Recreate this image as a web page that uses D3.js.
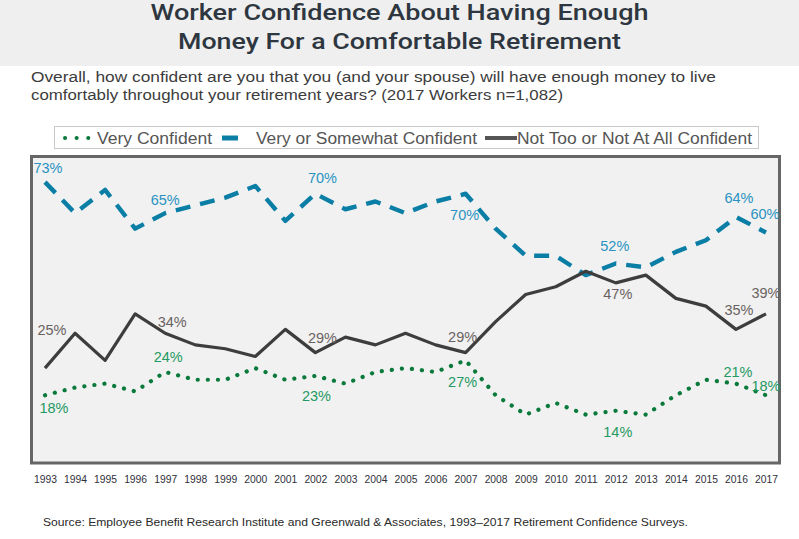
<!DOCTYPE html>
<html>
<head>
<meta charset="utf-8">
<script src="https://cdn.jsdelivr.net/npm/d3@7"></script>
<style>
  body { margin: 0; background: #fff; }
  svg { display: block; font-family: "Liberation Sans", Arial, sans-serif; }
</style>
</head>
<body>
<div id="chart"></div>
<script>
const years = [1993, 1994, 1995, 1996, 1997, 1998, 1999, 2000, 2001, 2002, 2003, 2004, 2005,
  2006, 2007, 2008, 2009, 2010, 2011, 2012, 2013, 2014, 2015, 2016, 2017];

const veryConfident = [18, 20, 21, 19, 24, 22, 22, 25, 22, 23, 21, 24, 25,
  24, 27, 18, 13, 16, 13, 14, 13, 18, 22, 21, 18];
const veryOrSomewhat = [73, 65, 71, 61, 65, 67, 69, 72, 63, 70, 66, 68, 65,
  68, 70, 61, 54, 54, 49, 52, 51, 55, 58, 64, 60];
const notTooConfident = [25, 34, 27, 39, 34, 31, 30, 28, 35, 29, 33, 31, 34,
  31, 29, 37, 44, 46, 50, 47, 49, 43, 41, 35, 39];

const labelYears = [1993, 1997, 2002, 2007, 2012, 2016, 2017];

const titleLines = ["Worker Confidence About Having Enough", "Money For a Comfortable Retirement"];
const subtitleLines = [
  "Overall, how confident are you that you (and your spouse) will have enough money to live",
  "comfortably throughout your retirement years? (2017 Workers n=1,082)"
];
const sourceText = "Source:  Employee Benefit Research Institute and Greenwald & Associates, 1993\u20132017 Retirement Confidence Surveys.";

// label nudges (dx, dy) relative to the point, per label year
const labelNudge = {
  blue:  [[3, -9], [0, -8], [7, -11], [-1, 26], [-1, -13], [3, -14], [-1, -14]],
  black: [[7, -33], [7, -6], [7, -10], [-3, -11], [2, 16], [3, -14], [0, -16]],
  green: [[9, 18], [3, -10], [1, 25], [-3, 27], [2, 26], [2, -7], [0, -4]]
};

const series = [
  { key: "blue", name: "Very or Somewhat Confident", values: veryOrSomewhat,
    color: "#0b7ea6", label: "#2a93c2", width: 4.4, dash: "15 10", cap: "butt" },
  { key: "black", name: "Not Too or Not At All Confident", values: notTooConfident,
    color: "#3d3d3d", label: "#6a6262", width: 3.2, dash: null, cap: "butt" },
  { key: "green", name: "Very Confident", values: veryConfident,
    color: "#0a7a3c", label: "#1f9a62", width: 4.2, dash: "0.1 10", cap: "round" }
];

const W = 799, H = 539;
const svg = d3.select("#chart").append("svg").attr("width", W).attr("height", H);

// header band
svg.append("rect").attr("x", 0).attr("y", 0).attr("width", W).attr("height", 66).attr("fill", "#efefef");

const titleWidths = [498, 443];
titleLines.forEach((t, i) => {
  svg.append("text")
    .attr("x", 399.5).attr("y", 20 + i * 28.5)
    .attr("text-anchor", "middle")
    .attr("font-family", "Roboto, \"Liberation Sans\", Arial, sans-serif")
    .attr("font-weight", 500)
    .attr("font-size", 21.5)
    .attr("fill", "#2e3640")
    .attr("textLength", titleWidths[i])
    .attr("lengthAdjust", "spacingAndGlyphs")
    .text(t);
});

const subWidths = [685, 532];
subtitleLines.forEach((t, i) => {
  svg.append("text")
    .attr("x", 31).attr("y", 82 + i * 18)
    .attr("font-size", 15.5)
    .attr("fill", "#3c3c3c")
    .attr("textLength", subWidths[i])
    .attr("lengthAdjust", "spacingAndGlyphs")
    .text(t);
});

// legend
const legend = svg.append("g");
legend.append("rect")
  .attr("x", 54.5).attr("y", 126.5).attr("width", 704).attr("height", 22)
  .attr("fill", "#fff").attr("stroke", "#c9c9c9");

const legendItems = [
  { s: series[2], x1: 65, x2: 90, tx: 97, tw: 115 },
  { s: series[0], x1: 222, x2: 238, tx: 256, tw: 221 },
  { s: series[1], x1: 485, x2: 517, tx: 517, tw: 235 }
];
legendItems.forEach((d) => {
  legend.append("line")
    .attr("x1", d.x1).attr("x2", d.x2).attr("y1", 138).attr("y2", 138)
    .attr("stroke", d.s.key === "black" ? "#555" : d.s.color)
    .attr("stroke-width", d.s.key === "blue" ? 5 : 4)
    .attr("stroke-linecap", d.s.cap)
    .attr("stroke-dasharray", d.s.key === "green" ? "0.1 11.5" : null);
  legend.append("text")
    .attr("x", d.tx).attr("y", 144)
    .attr("font-size", 16)
    .attr("fill", "#555")
    .attr("textLength", d.tw)
    .attr("lengthAdjust", "spacingAndGlyphs")
    .text(d.s.name);
});

// plot area
svg.append("rect")
  .attr("x", 31.5).attr("y", 156.5).attr("width", 748).attr("height", 306.5)
  .attr("fill", "#f1f1f1").attr("stroke", "#666").attr("stroke-width", 3);

const x = d3.scaleLinear().domain([1993, 2017]).range([45, 766]);
const y = d3.scaleLinear().domain([0, 80]).range([465, 155]);

const xAxis = d3.axisBottom(x)
  .tickValues(years)
  .tickFormat(d3.format("d"))
  .tickSize(0)
  .tickPadding(10);

const gx = svg.append("g").attr("transform", "translate(0,465)").call(xAxis);
gx.select(".domain").remove();
gx.selectAll("text")
  .attr("font-family", "\"Liberation Sans\", Arial, sans-serif")
  .attr("font-size", 11)
  .attr("fill", "#2f2f3a")
  .attr("textLength", 23)
  .attr("lengthAdjust", "spacingAndGlyphs");

const line = d3.line().x((d, i) => x(years[i])).y((d) => y(d));

series.forEach((s) => {
  svg.append("path")
    .datum(s.values)
    .attr("fill", "none")
    .attr("stroke", s.color)
    .attr("stroke-width", s.width)
    .attr("stroke-linejoin", "round")
    .attr("stroke-linecap", s.cap)
    .attr("stroke-dasharray", s.dash)
    .attr("d", line);
});

series.forEach((s) => {
  labelYears.forEach((yr, j) => {
    const i = years.indexOf(yr);
    const [dx, dy] = labelNudge[s.key][j];
    svg.append("text")
      .attr("x", x(yr) + dx)
      .attr("y", y(s.values[i]) + dy)
      .attr("text-anchor", "middle")
      .attr("font-size", 14.5)
      .attr("fill", s.label)
      .attr("textLength", 29)
      .attr("lengthAdjust", "spacingAndGlyphs")
      .text(s.values[i] + "%");
  });
});

svg.append("text")
  .attr("x", 43).attr("y", 526)
  .attr("font-size", 11)
  .attr("fill", "#2a2a2a")
  .attr("textLength", 645)
  .attr("lengthAdjust", "spacingAndGlyphs")
  .text(sourceText);
</script>
</body>
</html>
